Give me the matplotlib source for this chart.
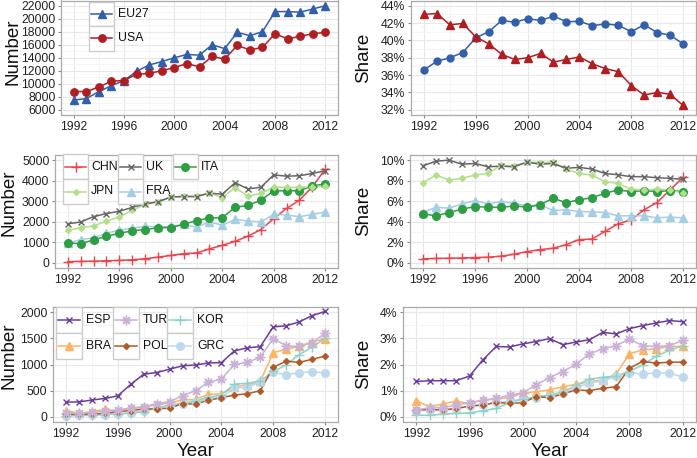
import matplotlib
matplotlib.use("Agg")
import matplotlib.pyplot as plt
from matplotlib.patches import Rectangle
from matplotlib.lines import Line2D
from matplotlib.ticker import MultipleLocator, FuncFormatter

plt.rcParams['font.family'] = ['Liberation Sans', 'DejaVu Sans']

# ── data ──────────────────────────────────────────────
years = list(range(1992, 2013))

eu27_num = [7500, 7700, 8800, 9700, 10500, 11900, 12900, 13400, 14000, 14500, 14400,
            16000, 15400, 17900, 17400, 18000, 21100, 21100, 21000, 21500, 22000]
usa_num = [8800, 8800, 9500, 10400, 10500, 11450, 11600, 12000, 12500, 13100, 12600,
           14200, 13800, 15900, 15200, 15600, 17700, 16900, 17300, 17700, 17900]
eu27_share = [36.6, 37.6, 38.0, 38.6, 40.3, 41.0, 42.3, 42.1, 42.5, 42.3, 42.8,
              42.15, 42.2, 41.7, 41.9, 41.75, 41.0, 41.8, 40.9, 40.6, 39.6]
usa_share = [43.0, 43.1, 41.8, 41.95, 40.4, 39.6, 38.4, 37.8, 38.0, 38.5, 37.5,
             37.8, 38.1, 37.3, 36.75, 36.4, 34.8, 33.7, 34.0, 33.8, 32.5]

chn_num = [60, 70, 80, 100, 120, 150, 200, 280, 360, 450, 480,
           680, 850, 1050, 1300, 1620, 2150, 2650, 3050, 3700, 4550]
uk_num = [1900, 1990, 2250, 2400, 2510, 2700, 2870, 2980, 3200, 3230, 3220,
          3400, 3340, 3900, 3600, 3680, 4280, 4220, 4240, 4350, 4480]
ita_num = [970, 930, 1120, 1290, 1440, 1560, 1620, 1710, 1720, 1870, 2060,
           2180, 2200, 2700, 2800, 3050, 3500, 3510, 3510, 3750, 3840]
jpn_num = [1580, 1710, 1800, 2030, 2230, 2550, 2850, 2950, 3200, 3250, 3250,
           3400, 3180, 3660, 3250, 3380, 3700, 3670, 3680, 3700, 3740]
fra_num = [970, 1130, 1220, 1440, 1600, 1680, 1790, 1750, 1770, 1880, 1730,
           2000, 1830, 2120, 2040, 1990, 2360, 2330, 2250, 2360, 2470]

chn_share = [0.39, 0.43, 0.45, 0.48, 0.52, 0.55, 0.65, 0.84, 1.1, 1.29, 1.42,
             1.77, 2.26, 2.32, 3.06, 3.8, 4.19, 5.16, 5.87, 7.1, 8.32]
uk_share = [9.45, 9.9, 10.0, 9.6, 9.68, 9.35, 9.42, 9.35, 9.8, 9.6, 9.68,
            9.2, 9.3, 9.13, 8.7, 8.58, 8.39, 8.39, 8.29, 8.23, 8.13]
ita_share = [4.77, 4.58, 4.9, 5.23, 5.48, 5.42, 5.39, 5.55, 5.42, 5.65, 6.29,
             5.87, 6.13, 6.35, 6.77, 7.1, 6.94, 7.03, 6.94, 7.03, 6.94]
jpn_share = [7.8, 8.55, 8.06, 8.23, 8.55, 8.7, 9.5, 9.4, 9.84, 9.74, 9.84,
             9.1, 8.7, 8.55, 7.9, 7.74, 7.16, 7.1, 7.16, 7.1, 6.77]
fra_share = [4.9, 5.42, 5.32, 5.74, 6.06, 5.74, 5.97, 5.8, 5.55, 5.65, 5.1,
             5.16, 5.0, 4.97, 4.9, 4.58, 4.58, 4.58, 4.39, 4.45, 4.39]

esp_num = [280, 285, 320, 350, 400, 620, 815, 845, 910, 975, 990,
           1030, 1035, 1260, 1320, 1340, 1720, 1740, 1815, 1935, 2015]
tur_num = [80, 70, 90, 110, 130, 170, 190, 250, 290, 400, 500,
           660, 720, 1005, 1040, 1140, 1495, 1355, 1345, 1415, 1600]
kor_num = [20, 25, 35, 45, 55, 70, 100, 170, 220, 260, 310,
           370, 420, 625, 640, 686, 870, 990, 1190, 1330, 1500]
bra_num = [120, 65, 100, 140, 115, 160, 190, 225, 270, 320, 335,
           430, 440, 570, 610, 680, 1225, 1295, 1345, 1435, 1485]
pol_num = [50, 45, 55, 65, 100, 120, 150, 150, 165, 250, 245,
           315, 365, 415, 440, 500, 945, 1065, 1040, 1100, 1160]
grc_num = [20, 25, 30, 40, 60, 80, 120, 170, 210, 235, 280,
           340, 380, 545, 565, 660, 850, 805, 845, 860, 840]

esp_share = [1.35, 1.38, 1.38, 1.38, 1.56, 2.18, 2.69, 2.67, 2.79, 2.88, 2.99,
             2.76, 2.86, 2.95, 3.23, 3.17, 3.37, 3.49, 3.59, 3.68, 3.64]
tur_share = [0.26, 0.35, 0.35, 0.45, 0.54, 0.64, 0.7, 0.83, 0.92, 1.22, 1.5,
             1.73, 2.01, 2.41, 2.6, 2.72, 2.97, 2.72, 2.69, 2.72, 2.92]
kor_share = [0.06, 0.06, 0.1, 0.13, 0.15, 0.23, 0.32, 0.54, 0.67, 0.77, 0.83,
             0.95, 1.2, 1.44, 1.51, 1.56, 1.73, 1.99, 2.31, 2.54, 2.72]
bra_share = [0.62, 0.38, 0.49, 0.6, 0.51, 0.64, 0.67, 0.74, 0.9, 0.96, 1.03,
             1.15, 1.24, 1.35, 1.4, 1.63, 2.41, 2.56, 2.6, 2.69, 2.69]
pol_share = [0.26, 0.28, 0.26, 0.32, 0.41, 0.45, 0.55, 0.51, 0.54, 0.77, 0.73,
             0.87, 1.03, 1.0, 1.09, 1.15, 1.86, 2.12, 2.05, 2.09, 2.09]
grc_share = [0.23, 0.25, 0.25, 0.3, 0.4, 0.45, 0.55, 0.6, 0.68, 0.7, 0.8,
             0.9, 1.1, 1.31, 1.35, 1.56, 1.67, 1.64, 1.67, 1.67, 1.52]

# ── styles: colour, marker, size, edge width ─────────
STY = {
    'EU27': ('#335FAA', '^', 5.8, 1.0),
    'USA':  ('#AF1E23', 'o', 5.3, 1.0),
    'CHN':  ('#E8454D', '+', 7.0, 1.0),
    'UK':   ('#666666', 'x', 5.0, 1.0),
    'ITA':  ('#2E9E45', 'o', 5.5, 1.0),
    'JPN':  ('#B2DF8A', 'D', 3.0, 1.0),
    'FRA':  ('#A6CEE3', '^', 5.5, 1.0),
    'ESP':  ('#6A3D9A', 'x', 5.0, 1.0),
    'TUR':  ('#CAB2D6', (8, 2, 0), 7.0, 1.0),
    'KOR':  ('#8DD3C7', '+', 7.0, 1.0),
    'BRA':  ('#FDB462', '^', 5.5, 1.0),
    'POL':  ('#B15928', 'D', 3.0, 1.0),
    'GRC':  ('#BFD8EC', 'o', 5.5, 1.0),
}

TICK_FS = 8.8
TITLE_FS = 13.5

W, H = 697, 458
fig = plt.figure(figsize=(W / 100, H / 100), dpi=100)


def fx(x):
    return x / W


def fy(y):
    return 1 - y / H


def make_ax(l, t, r, b):
    return fig.add_axes([fx(l), fy(b), (r - l) / W, (b - t) / H])


def style_ax(ax, lo, hi, step, pct=False):
    pad = 0.05 * (hi - lo)
    ax.set_xlim(1991, 2013)
    ax.set_ylim(lo - pad, hi + pad)
    ax.xaxis.set_major_locator(MultipleLocator(4))
    ax.xaxis.set_minor_locator(MultipleLocator(2))
    ax.yaxis.set_major_locator(MultipleLocator(step))
    ax.yaxis.set_minor_locator(MultipleLocator(step / 2))
    if pct:
        ax.yaxis.set_major_formatter(FuncFormatter(lambda v, p: f"{v:.0f}%"))
    else:
        ax.yaxis.set_major_formatter(FuncFormatter(lambda v, p: f"{v:.0f}"))
    ax.grid(True, which='major', color='#E8E8E8', lw=0.8)
    ax.grid(True, which='minor', color='#F4F4F4', lw=0.6)
    ax.set_axisbelow(True)
    for s in ax.spines.values():
        s.set_color('#AAAAAA')
        s.set_linewidth(0.9)
    ax.tick_params(which='major', direction='out', length=2.5, width=0.8,
                   color='#888888', labelsize=TICK_FS, labelcolor='#222222', pad=1.5)
    ax.tick_params(which='minor', length=0)


def draw(ax, series):
    for name, vals in series:
        c, m, ms, mew = STY[name]
        ax.plot(years, vals, color=c, lw=1.1, zorder=2)
    for name, vals in series:
        c, m, ms, mew = STY[name]
        ax.plot(years, vals, ls='none', marker=m, ms=ms, color=c,
                mec=c, mew=mew, zorder=3)


def legend(entries, cols, x0, y0, kw, kh, colx, texto):
    # entries laid out row by row, ggplot-style keys with grey border
    for i, name in enumerate(entries):
        r, ci = divmod(i, cols)
        x = x0 + colx[ci]
        y = y0 + r * kh
        c, m, ms, mew = STY[name]
        fig.add_artist(Rectangle((fx(x), fy(y + kh)), kw / W, kh / H,
                                 transform=fig.transFigure, facecolor='white',
                                 edgecolor='#CCCCCC', lw=1.0, zorder=5))
        yc = fy(y + kh / 2)
        fig.add_artist(Line2D([fx(x + 2), fx(x + kw - 2)], [yc, yc],
                              transform=fig.transFigure, color=c, lw=1.1, zorder=6))
        fig.add_artist(Line2D([fx(x + kw / 2)], [yc], transform=fig.transFigure,
                              ls='none', marker=m, ms=ms, color=c, mec=c,
                              mew=mew, zorder=7))
        fig.text(fx(x + kw + texto), yc, name, va='center', ha='left',
                 fontsize=TICK_FS, color='#111111', zorder=7)


def ylab(text, x, ymid):
    fig.text(fx(x), fy(ymid), text, rotation=90, ha='center', va='center',
             fontsize=TITLE_FS, color='#111111')


# ── top row ──────────────────────────────────────────
ax = make_ax(61, 0.5, 338, 115)
draw(ax, [('EU27', eu27_num), ('USA', usa_num)])
style_ax(ax, 6000, 22000, 2000)
ylab('Number', 13, 52)
legend(['EU27', 'USA'], 1, 89, 1.5, 25, 24.5, [0], 4)

ax = make_ax(411, 0.5, 696, 115)
for name, vals, mk in [('EU27', eu27_share, 'o'), ('USA', usa_share, '^')]:
    c = STY[name][0]
    ax.plot(years, vals, color=c, lw=1.1, marker=mk, ms=5.0 if mk == 'o' else 5.8, mec=c)
style_ax(ax, 32, 44, 2, pct=True)
ylab('Share', 364, 58)

# ── middle row ───────────────────────────────────────
mid = [('CHN', chn_num), ('FRA', fra_num), ('ITA', ita_num), ('JPN', jpn_num), ('UK', uk_num)]
ax = make_ax(55, 155, 338, 268)
draw(ax, mid)
style_ax(ax, 0, 5000, 1000)
ylab('Number', 9, 203)
legend(['CHN', 'UK', 'ITA', 'JPN', 'FRA'], 3, 63, 154, 25, 25, [0, 55, 110], 3)

mid_s = [('CHN', chn_share), ('FRA', fra_share), ('ITA', ita_share), ('JPN', jpn_share), ('UK', uk_share)]
ax = make_ax(410, 155, 696, 268)
draw(ax, mid_s)
style_ax(ax, 0, 10, 2, pct=True)
ylab('Share', 364, 211)

# ── bottom row ───────────────────────────────────────
bot = [('BRA', bra_num), ('ESP', esp_num), ('GRC', grc_num), ('KOR', kor_num),
       ('POL', pol_num), ('TUR', tur_num)]
ax = make_ax(53, 307, 338, 422)
draw(ax, bot)
style_ax(ax, 0, 2000, 500)
ylab('Number', 9, 356)
legend(['ESP', 'TUR', 'KOR', 'BRA', 'POL', 'GRC'], 3, 56, 307, 26, 26, [0, 57, 111], 4)
fig.text(fx(196), fy(451), 'Year', ha='center', va='center', fontsize=TITLE_FS, color='#111111')

bot_s = [('BRA', bra_share), ('ESP', esp_share), ('GRC', grc_share), ('KOR', kor_share),
         ('POL', pol_share), ('TUR', tur_share)]
ax = make_ax(403, 307, 696, 422)
draw(ax, bot_s)
style_ax(ax, 0, 4, 1, pct=True)
ylab('Share', 364, 364)
fig.text(fx(550), fy(451), 'Year', ha='center', va='center', fontsize=TITLE_FS, color='#111111')

fig.savefig('out.png', dpi=100)
